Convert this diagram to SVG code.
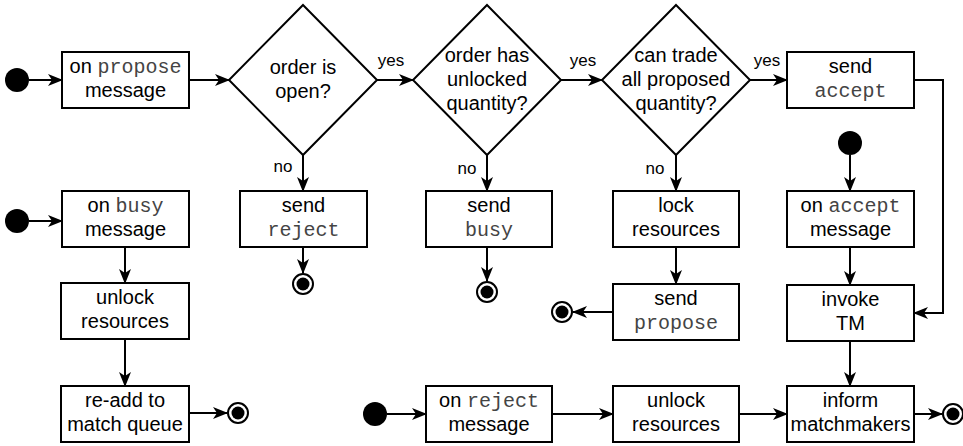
<svg xmlns="http://www.w3.org/2000/svg" width="963" height="446" viewBox="0 0 963 446">
<defs>
<marker id="arr" viewBox="0 0 15 12" refX="14" refY="6" markerWidth="15" markerHeight="12" markerUnits="userSpaceOnUse" orient="auto">
<path d="M0,0 L15,6 L0,12 L4,6 Z" fill="#000"/>
</marker>
</defs>
<style>
.box{fill:#fff;stroke:#000;stroke-width:2}
.t{font-family:"Liberation Sans",Arial,sans-serif;font-size:20px;fill:#000;text-anchor:middle}
.m{font-family:"Liberation Mono","Courier New",monospace;font-size:20px;fill:#444}
.lbl{font-family:"Liberation Sans",Arial,sans-serif;font-size:17px;fill:#000;text-anchor:middle}
.c{fill:none;stroke:#000;stroke-width:2;marker-end:url(#arr)}
.start{fill:#000}
.endo{fill:#fff;stroke:#000;stroke-width:2}
.endi{fill:#000}
</style>
<rect width="963" height="446" fill="#fff"/>
<g id="connectors">
<path class="c" d="M29,80 H62"/>
<path class="c" d="M189,80 H229"/>
<path class="c" d="M377,80 H413"/>
<path class="c" d="M561,80 H602"/>
<path class="c" d="M750,80 H787"/>
<path class="c" d="M303,155 V191"/>
<path class="c" d="M487,155 V191"/>
<path class="c" d="M676,155 V191"/>
<path class="c" d="M303,247 V273"/>
<path class="c" d="M487,247 V281"/>
<path class="c" d="M676,247 V284"/>
<path class="c" d="M613,312 H573"/>
<path class="c" d="M914,80 H943 V313 H914"/>
<path class="c" d="M850,155 V191"/>
<path class="c" d="M850,247 V285"/>
<path class="c" d="M850,341 V386"/>
<path class="c" d="M387,414 H426"/>
<path class="c" d="M552,414 H613"/>
<path class="c" d="M739,414 H787"/>
<path class="c" d="M914,414 H942"/>
<path class="c" d="M29,221 H62"/>
<path class="c" d="M125,247 V283"/>
<path class="c" d="M125,339 V386"/>
<path class="c" d="M189,413 H227"/>
<text class="lbl" x="391" y="66">yes</text>
<text class="lbl" x="583" y="66">yes</text>
<text class="lbl" x="767" y="66">yes</text>
<text class="lbl" x="283" y="172">no</text>
<text class="lbl" x="467" y="174">no</text>
<text class="lbl" x="655" y="174">no</text>
</g>
<g id="start1"><circle class="start" cx="17" cy="80" r="12"/></g>
<g id="onPropose"><rect class="box" x="62" y="52" width="127" height="56"/>
<text class="t" x="125.5" y="73">on <tspan class="m">propose</tspan></text>
<text class="t" x="125.5" y="97">message</text></g>
<g id="d1"><polygon class="box" points="303,5 377,80 303,155 229,80"/>
<text class="t" x="303" y="74">order is</text><text class="t" x="303" y="98">open?</text></g>
<g id="d2"><polygon class="box" points="487,5 561,80 487,155 413,80"/>
<text class="t" x="487" y="62">order has</text><text class="t" x="487" y="86">unlocked</text><text class="t" x="487" y="110">quantity?</text></g>
<g id="d3"><polygon class="box" points="676,5 750,80 676,155 602,80"/>
<text class="t" x="676" y="62">can trade</text><text class="t" x="676" y="86">all proposed</text><text class="t" x="676" y="110">quantity?</text></g>
<g id="sendAccept"><rect class="box" x="787" y="52" width="127" height="56"/>
<text class="t" x="850.5" y="73">send</text><text class="t" x="850.5" y="97"><tspan class="m">accept</tspan></text></g>
<g id="sendReject"><rect class="box" x="240" y="191" width="127" height="56"/>
<text class="t" x="303.5" y="212">send</text><text class="t" x="303.5" y="236"><tspan class="m">reject</tspan></text></g>
<g id="end1"><circle class="endo" cx="303" cy="284" r="10"/><circle class="endi" cx="303" cy="284" r="6.5"/></g>
<g id="sendBusy"><rect class="box" x="426" y="191" width="126" height="56"/>
<text class="t" x="489" y="212">send</text><text class="t" x="489" y="236"><tspan class="m">busy</tspan></text></g>
<g id="end2"><circle class="endo" cx="487" cy="292" r="10"/><circle class="endi" cx="487" cy="292" r="6.5"/></g>
<g id="lock"><rect class="box" x="613" y="191" width="126" height="56"/>
<text class="t" x="676" y="212">lock</text><text class="t" x="676" y="236">resources</text></g>
<g id="sendPropose"><rect class="box" x="613" y="284" width="126" height="56"/>
<text class="t" x="676" y="305">send</text><text class="t" x="676" y="329"><tspan class="m">propose</tspan></text></g>
<g id="end3"><circle class="endo" cx="562" cy="312" r="10"/><circle class="endi" cx="562" cy="312" r="6.5"/></g>
<g id="start4"><circle class="start" cx="850" cy="143" r="12"/></g>
<g id="onAccept"><rect class="box" x="787" y="191" width="127" height="56"/>
<text class="t" x="850.5" y="212">on <tspan class="m">accept</tspan></text><text class="t" x="850.5" y="236">message</text></g>
<g id="invokeTM"><rect class="box" x="787" y="285" width="127" height="56"/>
<text class="t" x="850.5" y="306">invoke</text><text class="t" x="850.5" y="330">TM</text></g>
<g id="inform"><rect class="box" x="787" y="386" width="127" height="56"/>
<text class="t" x="850.5" y="407">inform</text><text class="t" x="850.5" y="431">matchmakers</text></g>
<g id="end5"><circle class="endo" cx="953" cy="414" r="10"/><circle class="endi" cx="953" cy="414" r="6.5"/></g>
<g id="start3"><circle class="start" cx="375" cy="414" r="12"/></g>
<g id="onReject"><rect class="box" x="426" y="386" width="126" height="56"/>
<text class="t" x="489" y="407">on <tspan class="m">reject</tspan></text><text class="t" x="489" y="431">message</text></g>
<g id="unlock2"><rect class="box" x="613" y="386" width="126" height="56"/>
<text class="t" x="676" y="407">unlock</text><text class="t" x="676" y="431">resources</text></g>
<g id="start2"><circle class="start" cx="17" cy="221" r="12"/></g>
<g id="onBusy"><rect class="box" x="62" y="191" width="127" height="56"/>
<text class="t" x="125.5" y="212">on <tspan class="m">busy</tspan></text><text class="t" x="125.5" y="236">message</text></g>
<g id="unlock1"><rect class="box" x="61" y="283" width="128" height="56"/>
<text class="t" x="125" y="304">unlock</text><text class="t" x="125" y="328">resources</text></g>
<g id="readd"><rect class="box" x="61" y="386" width="128" height="56"/>
<text class="t" x="125" y="407">re-add to</text><text class="t" x="125" y="431">match queue</text></g>
<g id="end4"><circle class="endo" cx="238" cy="413" r="10"/><circle class="endi" cx="238" cy="413" r="6.5"/></g>
</svg>
